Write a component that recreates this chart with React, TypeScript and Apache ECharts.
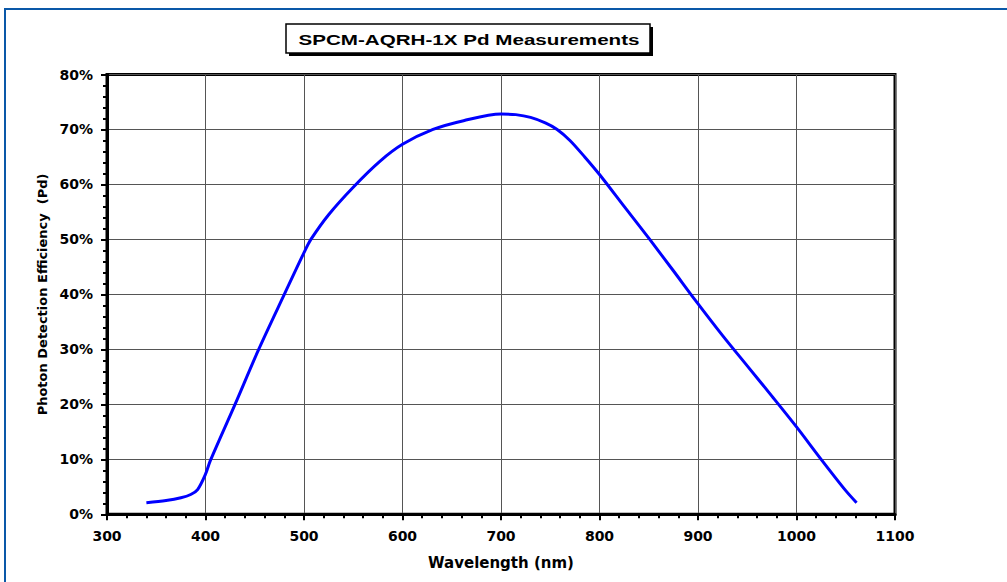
import React, { useEffect, useRef } from "react";
import * as echarts from "echarts";

const wavelengths = [340, 360, 375, 385, 392, 400, 405, 430, 454, 480, 500, 507, 525, 550, 577, 600, 631, 662, 700, 715, 730, 745, 757, 770, 785, 800, 825, 851, 875, 897, 925, 950, 975, 1000, 1025, 1050, 1061];
const efficiency = [2.1, 2.5, 3.0, 3.6, 4.5, 7.3, 9.8, 20, 30, 40, 47.6, 50, 54.5, 59.5, 64.2, 67.3, 70, 71.6, 72.8, 72.7, 72.2, 71.2, 70.0, 68.0, 65.0, 61.8, 56, 50, 44.3, 39, 32.5, 27, 21.5, 15.9, 10, 4.3, 2.1];

const titleText = "SPCM-AQRH-1X Pd Measurements";
const xAxisName = "Wavelength (nm)";
const yAxisName = "Photon Detection Efficiency  (Pd)";

export default function App() {
  const ref = useRef<HTMLDivElement>(null);
  useEffect(() => {
    if (!ref.current) return;
    const chart = echarts.init(ref.current, null, { renderer: "svg" });
    const font = "'DejaVu Sans', sans-serif";
    const titleFont = "'Liberation Sans', Arial, sans-serif";
    chart.setOption({
      animation: false,
      backgroundColor: "#ffffff",
      textStyle: { fontFamily: font },
      grid: {
        left: 107,
        right: 112,
        top: 74.5,
        bottom: 67.7,
        show: true,
        borderColor: "#000",
        borderWidth: 3,
        backgroundColor: "transparent",
      },
      xAxis: {
        type: "value",
        min: 300,
        max: 1100,
        interval: 100,
        name: xAxisName,
        nameLocation: "middle",
        nameGap: 41,
        nameTextStyle: { fontWeight: "bold", fontSize: 15, color: "#000", fontFamily: font },
        axisLine: { show: true, onZero: false, lineStyle: { color: "#000", width: 3 } },
        axisTick: { show: true, inside: false, length: 6, lineStyle: { color: "#000", width: 2 } },
        minorTick: { show: true, splitNumber: 5, length: 4, lineStyle: { color: "#000", width: 2 } },
        splitLine: { show: true, lineStyle: { color: "#555", width: 1 } },
        axisLabel: {
          fontWeight: "bold",
          fontSize: 14,
          color: "#000",
          margin: 15,
          fontFamily: font,
          formatter: (v: number) => String(v),
        },
      },
      yAxis: {
        type: "value",
        min: 0,
        max: 80,
        interval: 10,
        name: yAxisName,
        nameLocation: "middle",
        nameGap: 56,
        nameTextStyle: { fontWeight: "bold", fontSize: 13, color: "#000", fontFamily: font },
        axisLine: { show: true, onZero: false, lineStyle: { color: "#000", width: 3 } },
        axisTick: { show: true, inside: false, length: 6, lineStyle: { color: "#000", width: 2 } },
        minorTick: { show: true, splitNumber: 5, length: 4, lineStyle: { color: "#000", width: 2 } },
        splitLine: { show: true, lineStyle: { color: "#555", width: 1 } },
        axisLabel: { fontWeight: "bold", fontSize: 14, color: "#000", margin: 14, formatter: "{value}%", fontFamily: font },
      },
      graphic: [
        { type: "line", shape: { x1: 5, y1: 9, x2: 5, y2: 582 }, style: { stroke: "#0a58a8", lineWidth: 2 } },
        { type: "line", shape: { x1: 4, y1: 9, x2: 1007, y2: 9 }, style: { stroke: "#0a58a8", lineWidth: 2 } },
        { type: "rect", shape: { x: 289, y: 27, width: 364, height: 29 }, style: { fill: "#000" } },
        { type: "rect", shape: { x: 286, y: 24, width: 364, height: 29 }, style: { fill: "#fff", stroke: "#000", lineWidth: 1.5 } },
        {
          type: "text",
          x: 469,
          y: 39,
          scaleX: 1.33,
          style: {
            text: titleText,
            fontSize: 15.5,
            fontWeight: "bold",
            fontFamily: titleFont,
            fill: "#000",
            align: "center",
            verticalAlign: "middle",
          },
        },
      ],
      series: [
        {
          type: "line",
          data: wavelengths.map((w, i) => [w, efficiency[i]]),
          smooth: 0.3,
          showSymbol: false,
          lineStyle: { color: "#0000ff", width: 3 },
          z: 5,
        },
      ],
    });
    return () => chart.dispose();
  }, []);
  return <div ref={ref} style={{ position: "fixed", left: 0, top: 0, width: 1007, height: 582 }} />;
}
